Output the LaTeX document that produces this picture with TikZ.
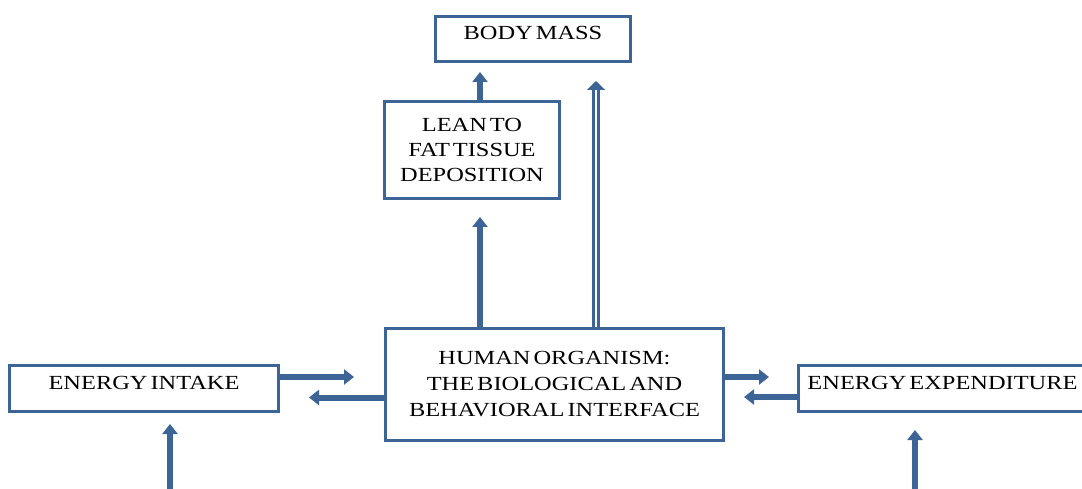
\documentclass[tikz,border=0pt]{standalone}
\usepackage{fontspec}
\setmainfont{Liberation Serif}[FakeStretch=1.22,WordSpace=0.5]
\usetikzlibrary{arrows.meta,positioning}
\definecolor{cBlue}{HTML}{3C6496}

\begin{document}
\begin{tikzpicture}[x=1pt,y=-1pt,
    box/.style={draw=cBlue,line width=3pt,fill=white,align=center,inner sep=0pt,
                font=\fontsize{20}{25}\selectfont},
    topbox/.style={box,text depth=12pt},
    arr/.style={-{Triangle[length=10pt,width=15pt]},cBlue,line width=6pt},
    darr/.style={-{Triangle[length=9pt,width=18pt]},cBlue,line width=3pt,
                 double=white,double distance=2pt}]
  \useasboundingbox (0,0) rectangle (1082,489);
  \node[topbox,minimum width=195pt,minimum height=45pt] (body) at (533,39) {BODY MASS};
  \node[box,minimum width=175pt,minimum height=97pt] (lean) at (472,150)
    {LEAN TO\\FAT TISSUE\\DEPOSITION};
  \node[box,minimum width=338pt,minimum height=112pt,font=\fontsize{20}{26}\selectfont]
    (human) at (554.5,384.5)
    {HUMAN ORGANISM:\\THE BIOLOGICAL AND\\BEHAVIORAL INTERFACE};
  \node[topbox,minimum width=269pt,minimum height=46pt] (intake) at (144,388.5) {ENERGY INTAKE};
  \node[topbox,minimum width=288pt,minimum height=46pt] (expend) at (942.5,388.5) {ENERGY EXPENDITURE};
  % exchange with intake and expenditure
  \coordinate (i1) at ([yshift=11.5pt]intake.east);
  \coordinate (i2) at ([yshift=-13pt]human.west);
  \coordinate (e1) at ([yshift=7.5pt]human.east);
  \coordinate (e2) at ([yshift=-8.5pt]expend.west);
  \draw[arr,shorten >=30pt] (i1) -- (i1 -| human.west);
  \draw[arr,shorten >=29pt] (i2) -- (i2 -| intake.east);
  \draw[arr,shorten >=28pt] (e1) -- (e1 -| expend.west);
  \draw[arr,shorten >=19pt] (e2) -- (e2 -| human.east);
  % upwards to body mass
  \coordinate (u1) at ([xshift=-74.5pt]human.north);
  \coordinate (u2) at ([xshift=8pt]lean.north);
  \coordinate (u3) at ([xshift=41.5pt]human.north);
  \draw[arr,shorten >=17pt] (u1) -- (u1 |- lean.south);
  \draw[arr,shorten >=9pt] (u2) -- (u2 |- body.south);
  \draw[darr,shorten >=18pt] (u3) -- (u3 |- body.south);
  % inputs from below
  \coordinate (inSrc) at (170,495);
  \coordinate (exSrc) at (915,495);
  \draw[arr,shorten >=11pt] (inSrc) -- (inSrc |- intake.south);
  \draw[arr,shorten >=17pt] (exSrc) -- (exSrc |- expend.south);
\end{tikzpicture}
\end{document}
